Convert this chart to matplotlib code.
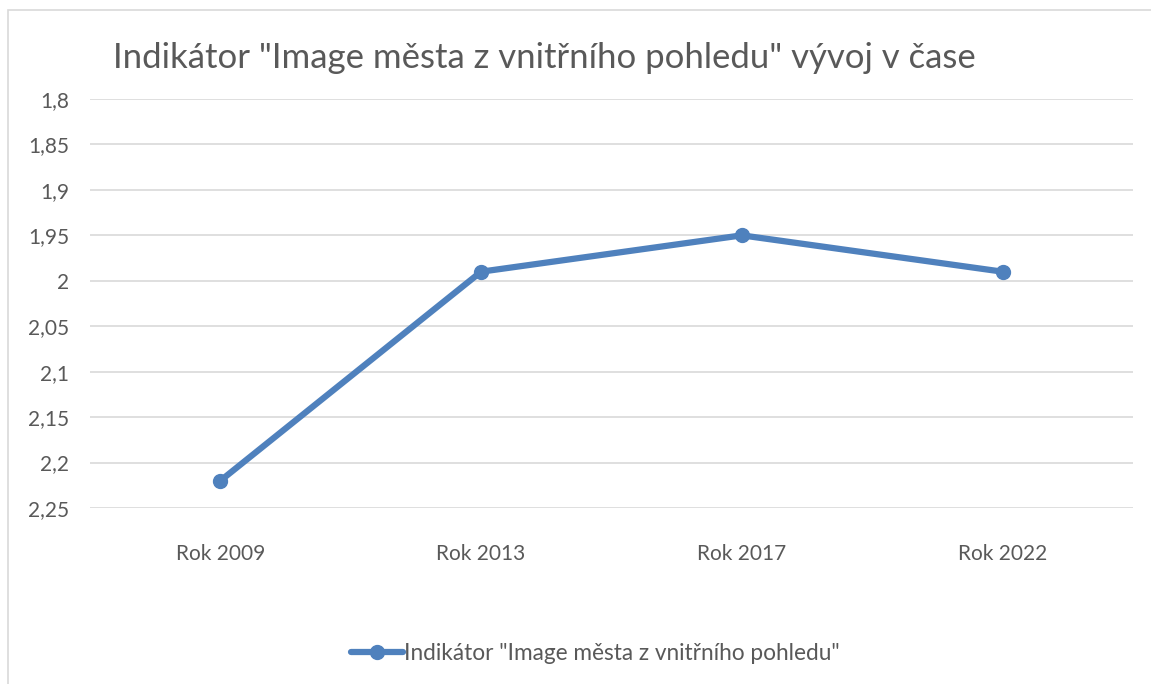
import matplotlib.pyplot as plt
from matplotlib.patches import Rectangle

# Data
roky = ["Rok 2009", "Rok 2013", "Rok 2017", "Rok 2022"]
hodnoty = [2.22, 1.99, 1.95, 1.99]
yticks = [1.8, 1.85, 1.9, 1.95, 2.0, 2.05, 2.1, 2.15, 2.2, 2.25]
nazev = 'Indikátor "Image města z vnitřního pohledu" vývoj v čase'
legenda = 'Indikátor "Image města z vnitřního pohledu"'

plt.rcParams['font.family'] = ['Lato', 'DejaVu Sans']

barva = "#4f81bd"
seda = "#595959"

fig = plt.figure(figsize=(11.51, 6.84), dpi=100)
# okraj grafu
fig.patches.append(Rectangle((8/1151, -0.02), 1.1, 1 - 10/684 + 0.02, transform=fig.transFigure,
                             fill=False, edgecolor="#d9d9d9", linewidth=1.2))

ax = fig.add_axes([90/1151, 1 - 508/684, 1043/1151, 409/684])
x = list(range(len(roky)))
ax.plot(x, hodnoty, color=barva, linewidth=4.5, marker="o", markersize=10,
        solid_capstyle="round", label=legenda)

ax.set_xlim(-0.5, len(roky) - 0.5)
ax.set_ylim(2.25, 1.8)
ax.set_yticks(yticks)
ax.set_yticklabels([("%g" % v).replace(".", ",") for v in yticks])
ax.set_xticks(x)
ax.set_xticklabels(roky)
ax.tick_params(length=0, labelsize=15, colors=seda)
ax.tick_params(axis="y", pad=15)
ax.tick_params(axis="x", pad=26)
ax.grid(axis="y", color="#d9d9d9", linewidth=1.2)
ax.set_axisbelow(True)
for s in ax.spines.values():
    s.set_visible(False)

fig.text(113/1151, 1 - 58/684, nazev, fontsize=25, color=seda, va="center", ha="left")

fig.legend(loc="center", bbox_to_anchor=(595/1151, 1 - 653/684), frameon=False,
           fontsize=16.3, labelcolor=seda, handlelength=2.3, handletextpad=0.05)

fig.savefig("out.png", dpi=100)
